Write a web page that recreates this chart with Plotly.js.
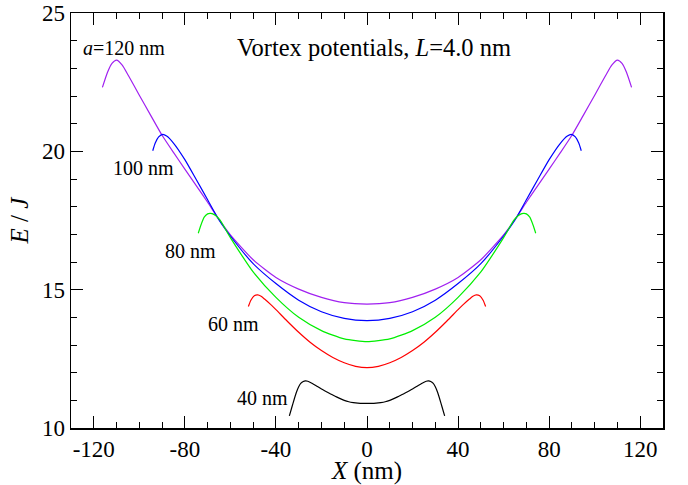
<!DOCTYPE html>
<html>
<head>
<meta charset="utf-8">
<script src="https://cdn.plot.ly/plotly-3.0.1.min.js"></script>
<style>html,body{margin:0;padding:0;background:#fff}#chart{width:688px;height:485px}</style>
</head>
<body>
<div id="chart"></div>
<script>
// a = 120 nm
const x120 = [-116.2,-114,-112,-110,-107.5,-104.8,-100,-95,-90,-85,-80,-75,-70,-65,-60,-50,-40,-30,-20,-10,0,10,20,30,40,50,60,65,70,75,80,85,90,95,100,104.8,107.5,110,112,114,116.2];
const e120 = [22.31,22.85,23.18,23.30,23.12,22.74,22.03,21.3,20.58,19.96,19.36,18.76,18.16,17.54,16.98,16.08,15.44,15.02,14.72,14.53,14.48,14.53,14.72,15.02,15.44,16.08,16.98,17.54,18.16,18.76,19.36,19.96,20.58,21.3,22.03,22.74,23.12,23.30,23.18,22.85,22.31];
// a = 100 nm
const x100 = [-94.1,-93,-91.5,-89.7,-88,-85,-80,-75,-70,-65,-60,-50,-40,-30,-20,-10,0,10,20,30,40,50,60,65,70,75,80,85,88,89.7,91.5,93,94.1];
const e100 = [20.02,20.3,20.52,20.61,20.55,20.3,19.7,18.98,18.25,17.52,16.94,15.94,15.22,14.62,14.2,13.96,13.88,13.96,14.2,14.62,15.22,15.94,16.94,17.52,18.25,18.98,19.7,20.3,20.55,20.61,20.52,20.3,20.02];
// a = 80 nm
const x80 = [-74.1,-73,-71.5,-70,-69,-68,-66.5,-64.6,-60,-55,-50,-40,-30,-20,-10,0,10,20,30,40,50,55,60,64.6,66.5,68,69,70,71.5,73,74.1];
const e80 = [17.04,17.32,17.62,17.74,17.76,17.75,17.68,17.52,16.88,16.24,15.64,14.72,14.0,13.52,13.22,13.12,13.22,13.52,14.0,14.72,15.64,16.24,16.88,17.52,17.68,17.75,17.76,17.74,17.62,17.32,17.04];
// a = 60 nm
const x60 = [-52.1,-51,-49.5,-48,-46.5,-45,-42,-40,-35,-30,-25,-20,-15,-10,-5,0,5,10,15,20,25,30,35,40,42,45,46.5,48,49.5,51,52.1];
const e60 = [14.39,14.62,14.78,14.81,14.76,14.66,14.44,14.28,13.86,13.46,13.1,12.8,12.55,12.36,12.23,12.18,12.23,12.36,12.55,12.8,13.1,13.46,13.86,14.28,14.44,14.66,14.76,14.81,14.78,14.62,14.39];
// a = 40 nm
const x40 = [-34.1,-33,-32,-31,-30,-29,-28,-27,-26,-24,-22,-20,-18,-16,-14,-12,-10,-8,-6,-4,-2,0,2,4,6,8,10,12,14,16,18,20,22,24,26,27,28,29,30,31,32,33,34.1];
const e40 = [10.44,10.75,11.03,11.29,11.49,11.62,11.68,11.70,11.69,11.61,11.51,11.41,11.32,11.23,11.15,11.07,11.0,10.95,10.92,10.90,10.89,10.89,10.89,10.90,10.92,10.95,11.0,11.07,11.15,11.23,11.32,11.41,11.51,11.61,11.69,11.70,11.68,11.62,11.49,11.29,11.03,10.75,10.44];

const xTickVals = [-120,-80,-40,0,40,80,120];
const xTickText = ["-120","-80","-40","0","40","80","120"];
const yTickVals = [10,15,20,25];
const yTickText = ["10","15","20","25"];

const labels = ["<i>a</i>=120 nm","100 nm","80 nm","60 nm","40 nm"];
const chartTitle = "Vortex potentials, <i>L</i>=4.0 nm";

const FONT = "Times New Roman, Liberation Serif, serif";

const series = [
  {x:x120, y:e120, color:"#a020f0"},
  {x:x100, y:e100, color:"#0000ff"},
  {x:x80,  y:e80,  color:"#00ee00"},
  {x:x60,  y:e60,  color:"#ff0000"},
  {x:x40,  y:e40,  color:"#000000"}
];

const traces = series.map(s => ({
  x: s.x, y: s.y, type: "scatter", mode: "lines",
  line: {color: s.color, width: 1.2, shape: "spline", smoothing: 0.6},
  hoverinfo: "skip", showlegend: false
}));

const labelPos = [
  {x:0.017, y:0.9157},
  {x:0.068, y:0.6265},
  {x:0.1546, y:0.4277},
  {x:0.228, y:0.2506},
  {x:0.277, y:0.0723}
];

const annotations = labels.map((t,i) => ({
  text: t, xref:"paper", yref:"paper", x: labelPos[i].x, y: labelPos[i].y,
  xanchor:"left", yanchor:"middle", showarrow:false,
  font:{family:FONT, size:20, color:"#000"}
}));
annotations.push({
  text: chartTitle, xref:"paper", yref:"paper", x:0.511, y:0.918,
  xanchor:"center", yanchor:"middle", showarrow:false,
  font:{family:FONT, size:24.5, color:"#000"}
});

const axisCommon = {
  showgrid:false, zeroline:false, showline:true, linecolor:"#000", linewidth:1.5,
  mirror:"allticks", ticks:"inside", ticklen:12, tickwidth:1, tickcolor:"#000",
  tickfont:{family:FONT, size:23, color:"#000"}
};

const layout = {
  width:688, height:485,
  margin:{l:71, r:25, t:13, b:57},
  paper_bgcolor:"#fff", plot_bgcolor:"#fff",
  font:{family:FONT, color:"#000"},
  xaxis: Object.assign({}, axisCommon, {
    range:[-130,130], tickmode:"array", tickvals:xTickVals, ticktext:xTickText,
    minor:{tickmode:"linear", tick0:0, dtick:10, ticks:"inside", ticklen:6, tickwidth:1, tickcolor:"#000"},
    title:{text:"<i>X</i> (nm)", font:{family:FONT, size:25, color:"#000"}, standoff:4}
  }),
  yaxis: Object.assign({}, axisCommon, {
    range:[10,25], tickmode:"array", tickvals:yTickVals, ticktext:yTickText,
    minor:{tickmode:"linear", tick0:0, dtick:1, ticks:"inside", ticklen:6, tickwidth:1, tickcolor:"#000"},
    title:{text:"<i>E</i> / <i>J</i>", font:{family:FONT, size:25, color:"#000"}, standoff:6}
  }),
  annotations: annotations
};

Plotly.newPlot("chart", traces, layout, {staticPlot:true, displayModeBar:false});
</script>
</body>
</html>
